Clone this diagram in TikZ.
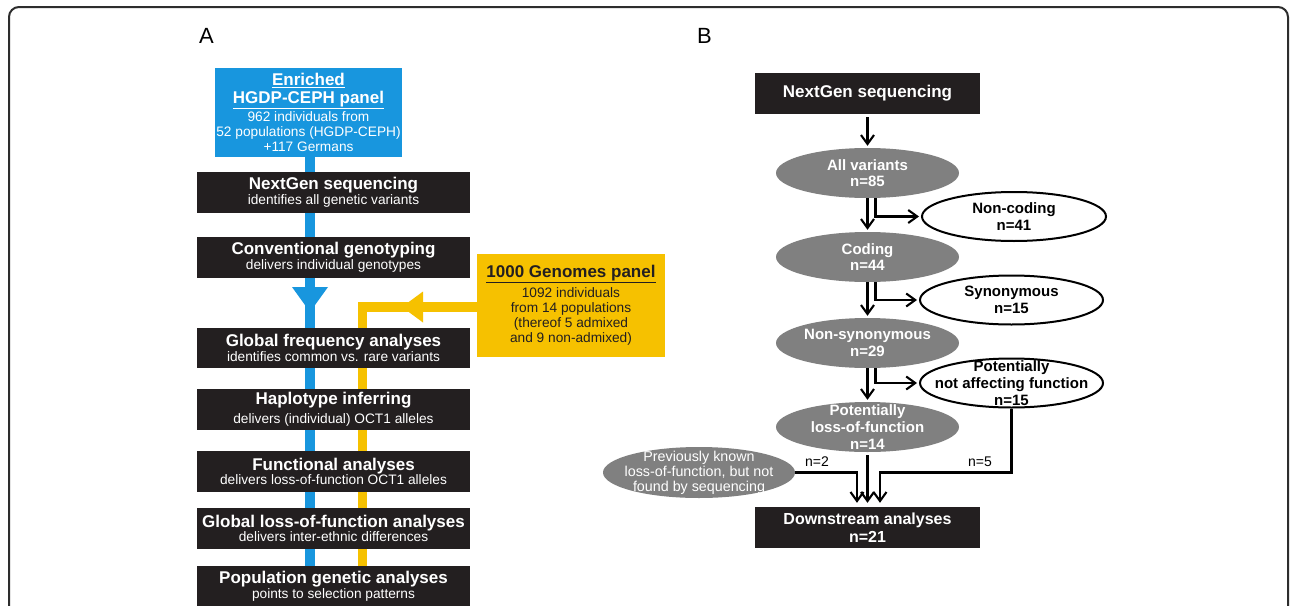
\documentclass[tikz,border=0pt]{standalone}
\usepackage{fontspec}
\setmainfont{Liberation Sans}
\usetikzlibrary{shapes.geometric,arrows.meta,calc}
\pgfdeclarelayer{bg}
\pgfsetlayers{bg,main}
\definecolor{pblue}{RGB}{24,150,222}
\definecolor{pyellow}{RGB}{246,193,0}
\definecolor{pdark}{RGB}{35,31,32}
\definecolor{pgray}{RGB}{128,128,128}
\definecolor{pframe}{RGB}{45,45,45}
\newcommand\myttl{\bfseries\fontsize{17}{14.5}\selectfont}
\begin{document}
\begin{tikzpicture}[x=1pt,y=1pt,
 darkbox/.style={rectangle,fill=pdark,text=white,inner sep=0pt,align=center,font=\fontsize{13.7}{14.5}\selectfont},
 boxA/.style={darkbox,minimum width=273pt,minimum height=41pt},
 grayell/.style={ellipse,fill=pgray,inner sep=0pt,minimum width=183pt,minimum height=50pt},
 whiteell/.style={ellipse,draw=black,line width=2pt,fill=white,inner sep=0pt,minimum width=183pt,minimum height=49pt},
 elltxt/.style={align=center,inner sep=0pt,font=\bfseries\fontsize{15}{16.7}\selectfont},
 arr/.style={draw=black,line width=2.1pt,-{Straight Barb[length=9pt,width=13pt]},shorten >=2pt},
 nlab/.style={inner sep=0pt,font=\fontsize{14}{16}\selectfont},
 panlab/.style={inner sep=0pt,anchor=base west,font=\fontsize{22}{24}\selectfont},
 blueline/.style={draw=pblue,line width=10pt},
 yellowline/.style={draw=pyellow,line width=9.5pt},
]
\useasboundingbox (0,0) rectangle (1290,-605);
\clip (0,0) rectangle (1290,-605);
\draw[pframe,line width=2pt,rounded corners=10pt] (9,-800) -- (9,-7) -- (1288,-7) -- (1288,-800);

% panel labels
\node[panlab] (labA) at (199,-43) {A};
\node[panlab] (labB) at (697,-43) {B};

% ---------- Panel A ----------
\node[rectangle,fill=pblue,text=white,inner sep=0pt,minimum width=187pt,minimum height=89pt,align=center,font=\fontsize{13.7}{15}\selectfont] (hgdp) at (308.5,-112.5)
  {{\myttl\underline{Enriched}}\\[3.3pt]{\myttl\underline{HGDP-CEPH panel}}\\[1.7pt]962 individuals from\\52 populations (HGDP-CEPH)\\+117 Germans};

\node[boxA] (ngsA) at (333.5,-192.5) {{\myttl NextGen sequencing}\\identifies all genetic variants};
\node[boxA] (geno) at (333.5,-257.5) {{\myttl Conventional genotyping}\\delivers individual genotypes};
\node[boxA,minimum height=40pt] (freq) at (333.5,-348) {{\myttl Global frequency analyses}\\identifies common vs. rare variants};
\node[boxA] (hap) at (333.5,-409.5) {{\myttl Haplotype inferring}\\[4.2pt]delivers (individual) OCT1 alleles};
\node[boxA] (func) at (333.5,-471.5) {{\myttl Functional analyses}\\delivers loss-of-function OCT1 alleles};
\node[boxA] (lof) at (333.5,-528.5) {{\myttl Global loss-of-function analyses}\\delivers inter-ethnic differences};
\node[boxA] (popgen) at (333.5,-586.5) {{\myttl Population genetic analyses}\\points to selection patterns};

\node[rectangle,fill=pyellow,text=pdark,inner sep=0pt,minimum width=188pt,minimum height=103pt,align=center,font=\fontsize{13.7}{15}\selectfont] (kg) at (571,-305.5)
  {{\myttl\underline{1000 Genomes panel}}\\[4pt]1092 individuals\\from 14 populations\\(thereof 5 admixed\\and 9 non-admixed)};

\begin{pgfonlayer}{bg}
\fill[white] (0,0) rectangle (1290,-605);
\draw[blueline] ([xshift=1.5pt]hgdp.south) -- ([xshift=1.5pt]hgdp.south |- popgen.north);
\coordinate (ycorner) at (362.5,-307);
\draw[yellowline] (kg.west |- ycorner) -- (ycorner) -- (ycorner |- popgen.north);
\fill[pblue] (292,-287) -- (328,-287) -- (310,-312) -- cycle;
\fill[pyellow] (402,-307) -- (423,-291.5) -- (423,-322.5) -- cycle;
\end{pgfonlayer}

% ---------- Panel B ----------
\node[darkbox,minimum width=225pt,minimum height=41pt,font=\bfseries\fontsize{17}{18}\selectfont] (ngsB) at (867.5,-93.5) {NextGen sequencing};

\node[grayell] (allv) at (867.5,-173) {};
\node[elltxt,text=white] (allvT) at (allv.center) {All variants\\n=85};
\node[whiteell,minimum width=184pt] (noncod) at (1014,-216.5) {};
\node[elltxt] (noncodT) at (noncod.center) {Non-coding\\n=41};
\node[grayell] (coding) at (867.5,-257) {};
\node[elltxt,text=white] (codingT) at (coding.center) {Coding\\n=44};
\node[whiteell] (syn) at (1011.5,-300) {};
\node[elltxt] (synT) at (syn.center) {Synonymous\\n=15};
\node[grayell] (nonsyn) at (867.5,-343) {};
\node[elltxt,text=white] (nonsynT) at (nonsyn.center) {Non-synonymous\\n=29};
\node[whiteell] (notaff) at (1011.5,-383) {};
\node[elltxt] (notaffT) at (notaff.center) {Potentially\\not affecting function\\n=15};
\node[grayell] (plof) at (867.5,-427) {};
\node[elltxt,text=white] (plofT) at (plof.center) {Potentially\\loss-of-function\\n=14};
\node[grayell,minimum width=192pt,minimum height=51pt] (prev) at (699,-472.5) {};
\node[align=center,inner sep=0pt,text=white,font=\fontsize{14.3}{15}\selectfont] (prevT) at (prev.center) {Previously known\\loss-of-function, but not\\found by sequencing};
\node[darkbox,minimum width=225pt,minimum height=41pt,font=\bfseries\fontsize{16}{17.4}\selectfont] (ds) at (867.5,-527.5) {Downstream analyses\\n=21};

\draw[arr,shorten <=3pt] (ngsB) -- (allv);
\draw[arr] (allv) -- (coding);
\draw[arr] ([xshift=8pt]allv.south) |- (noncod.west);
\draw[arr] (coding) -- (nonsyn);
\draw[arr] ([xshift=8pt]coding.south) |- (syn.west);
\draw[arr] (nonsyn) -- (plof);
\draw[arr] ([xshift=8pt]nonsyn.south) |- (notaff.west);

\draw[arr,shorten >=4pt] (prev.east) -| ([xshift=-10.5pt]ds.north);
\draw[arr,shorten <=3pt,shorten >=4pt] (plof) -- (ds);
\draw[arr,shorten >=4pt] (notaff.south) |- ([xshift=12.5pt]ds.north |- prev.east) -- ([xshift=12.5pt]ds.north);

\node[nlab] (n2) at (817,-462) {n=2};
\node[nlab] (n5) at (980,-462) {n=5};
\end{tikzpicture}
\end{document}
